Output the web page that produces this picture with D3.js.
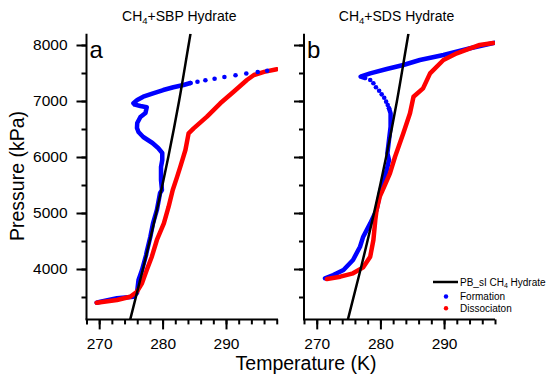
<!DOCTYPE html>
<html>
<head>
<meta charset="utf-8">
<script src="https://cdn.jsdelivr.net/npm/d3@7"></script>
<style>
  body { margin: 0; background: #fff; }
  text { font-family: "Liberation Sans", Arial, sans-serif; fill: #000; }
</style>
</head>
<body>
<svg id="chart" width="550" height="379"></svg>
<script>
// tick values
const tempTicks = [270, 280, 290];
const tempMinor = d3.range(268, 299, 2);
const presTicks = [4000, 5000, 6000, 7000, 8000];
const presMinor = d3.range(3500, 8001, 500);

// PB sI CH4 hydrate equilibrium (same in both panels)
const equilibrium = [[274.9, 3100], [276.9, 4000], [279.0, 5000], [280.9, 6000], [282.6, 7000], [284.1, 8000], [284.4, 8200]];

// panel a : CH4 + SBP
const sbpFormationDots = [[296.5, 7541], [295.0, 7518], [293.2, 7491], [291.5, 7459], [289.75, 7429], [288.2, 7398], [286.75, 7370], [285.5, 7345], [284.4, 7321]];
const sbpFormation = [[284.4, 7321], [283.3, 7286], [281.7, 7245], [280.1, 7196], [278.5, 7138], [276.95, 7077], [276.0, 7018], [275.4, 6959], [275.6, 6935], [276.5, 6911], [277.5, 6888],
  [277.3, 6786], [276.5, 6714], [276.0, 6607], [275.96, 6518], [276.2, 6446], [276.95, 6357], [278.4, 6250], [279.3, 6161], [279.95, 6071], [279.95, 5946], [279.75, 5821],
  [279.75, 5589], [279.9, 5411], [279.6, 5357], [279.1, 5054], [278.5, 4821], [278.06, 4571], [277.5, 4309], [277.4, 4250], [276.75, 3982], [276.2, 3804], [275.96, 3571],
  [275.4, 3505], [272.8, 3477], [270.2, 3416], [269.6, 3398]];
const sbpDissociation = [[269.6, 3398], [272.8, 3446], [274.9, 3505], [275.96, 3595], [276.75, 3744], [277.5, 3982], [278.3, 4220], [279.1, 4518], [280.2, 4815], [280.95, 5113],
  [281.6, 5411], [282.3, 5650], [282.8, 5827], [283.6, 6125], [284.1, 6423], [284.9, 6512], [287.0, 6720], [289.1, 6959], [291.2, 7166], [293.3, 7375], [294.4, 7464], [296.0, 7520], [298.0, 7568]];

// panel b : CH4 + SDS
const sdsFormation = [[298.0, 8041], [294.1, 7941], [289.9, 7821], [286.2, 7732], [283.6, 7643], [281.0, 7571], [278.4, 7494], [277.1, 7446], [276.9, 7434], [277.6, 7410]];
const sdsFormationDots = [[278.4, 7375], [278.9, 7316], [279.3, 7245], [279.8, 7184], [280.2, 7119], [280.6, 7059], [280.9, 6988], [281.15, 6929], [281.35, 6870]];
const sdsFormation2 = [[281.35, 6870], [281.6, 6780], [281.6, 6541], [281.35, 6304], [281.1, 6066], [281.35, 5946], [281.0, 5768], [280.5, 5589], [280.0, 5400],
  [279.4, 5054], [278.4, 4815], [277.3, 4577], [276.8, 4398], [275.7, 4161], [274.2, 3982], [272.6, 3893], [271.3, 3834]];
const sdsDissociation = [[271.6, 3821], [273.7, 3863], [275.7, 3923], [277.3, 4030], [278.4, 4220], [278.9, 4518], [279.2, 4875], [279.4, 5054], [279.9, 5291], [280.6, 5470],
  [281.5, 5709], [282.3, 6005], [283.6, 6423], [284.65, 6780], [285.2, 7077], [286.7, 7226], [287.8, 7494], [289.9, 7732], [292.0, 7851], [294.1, 7941], [295.6, 8000], [297.7, 8036]];

const blue = "#0000ff", red = "#ff0000";
const svg = d3.select("#chart");

const y = d3.scaleLinear().domain([3100, 8200]).range([319.4, 33.8]);

const panels = [
  { x: d3.scaleLinear().domain([268, 298.2]).range([86.5, 278]), letter: "a", title: "SBP", labels: true,
    lines: [[sbpFormation, blue], [sbpDissociation, red]], dots: [[sbpFormationDots, blue]] },
  { x: d3.scaleLinear().domain([268, 298]).range([304, 495]), letter: "b", title: "SDS", labels: false,
    lines: [[sdsFormation, blue], [sdsFormation2, blue], [sdsDissociation, red]], dots: [[sdsFormationDots, blue]] }
];

panels.forEach(p => {
  const x = p.x;
  const g = svg.append("g");
  const [x0, x1] = x.range();

  // clip so the equilibrium line stops at the frame
  const clipId = "clip" + p.letter;
  svg.append("clipPath").attr("id", clipId).append("rect")
    .attr("x", x0).attr("y", y.range()[1]).attr("width", x1 - x0).attr("height", y.range()[0] - y.range()[1]);

  const line = d3.line().x(d => x(d[0])).y(d => y(d[1]));
  const plot = g.append("g").attr("clip-path", `url(#${clipId})`);

  // formation first, dissociation on top
  p.lines.forEach(([data, color]) => {
    plot.append("path").datum(data)
      .attr("d", line)
      .attr("fill", "none")
      .attr("stroke", color)
      .attr("stroke-width", 4.5)
      .attr("stroke-linejoin", "round")
      .attr("stroke-linecap", "round");
  });
  p.dots.forEach(([data, color]) => {
    plot.selectAll(null).data(data).enter().append("circle")
      .attr("cx", d => x(d[0])).attr("cy", d => y(d[1]))
      .attr("r", 2.3).attr("fill", color);
  });

  plot.append("path").datum(equilibrium)
    .attr("d", d3.line().x(d => x(d[0])).y(d => y(d[1])).curve(d3.curveMonotoneY))
    .attr("fill", "none")
    .attr("stroke", "#000")
    .attr("stroke-width", 2.5);

  // axes
  const xAxis = g.append("g").attr("transform", `translate(0,${y.range()[0]})`)
    .call(d3.axisBottom(x).tickValues(tempTicks).tickSize(10).tickFormat(d3.format("d")));
  g.append("g").attr("transform", `translate(0,${y.range()[0]})`)
    .call(d3.axisBottom(x).tickValues(tempMinor).tickSize(5).tickFormat(""));
  const yAxis = g.append("g").attr("transform", `translate(${x0},0)`)
    .call(d3.axisLeft(y).tickValues(presTicks).tickSize(10).tickFormat(p.labels ? d3.format("d") : ""));
  g.append("g").attr("transform", `translate(${x0},0)`)
    .call(d3.axisLeft(y).tickValues(presMinor).tickSize(5).tickFormat(""));

  g.selectAll(".domain").attr("stroke", "#000").attr("stroke-width", 2);
  g.selectAll(".tick line").attr("stroke", "#000").attr("stroke-width", 2);
  g.selectAll(".domain").attr("d", function() {
    return this.parentNode === xAxis.node() || this.parentNode === yAxis.node() ? d3.select(this).attr("d") : null;
  });
  // plain straight domain lines
  g.selectAll(".domain").remove();
  g.append("line").attr("x1", x0 - 1).attr("x2", x1).attr("y1", y.range()[0]).attr("y2", y.range()[0]).attr("stroke", "#000").attr("stroke-width", 2);
  g.append("line").attr("x1", x0).attr("x2", x0).attr("y1", y.range()[1]).attr("y2", y.range()[0]).attr("stroke", "#000").attr("stroke-width", 2);

  xAxis.selectAll("text").attr("font-size", "15.5px").attr("dy", "1.05em");
  yAxis.selectAll("text").attr("font-size", "15.5px").attr("x", -19);

  // panel letter
  g.append("text").attr("x", x0 + 3).attr("y", 58).attr("font-size", "24px").text(p.letter);

  // title with subscript
  const t = g.append("text").attr("x", (x0 + x1) / 2 - 3).attr("y", 21).attr("text-anchor", "middle").attr("font-size", "14px");
  t.append("tspan").text("CH");
  t.append("tspan").attr("font-size", "9.5px").attr("dy", 3).text("4");
  t.append("tspan").attr("dy", -3).text("+" + p.title + " Hydrate");
});

// axis titles
svg.append("text").attr("x", 306).attr("y", 370).attr("text-anchor", "middle").attr("font-size", "19.5px").text("Temperature (K)");
svg.append("text").attr("transform", "translate(24,176) rotate(-90)").attr("text-anchor", "middle").attr("font-size", "19.5px").text("Pressure (kPa)");

// legend
const leg = svg.append("g");
leg.append("line").attr("x1", 433).attr("x2", 458).attr("y1", 282).attr("y2", 282).attr("stroke", "#000").attr("stroke-width", 2.5);
const lt = leg.append("text").attr("x", 460).attr("y", 285.5).attr("font-size", "10px");
lt.append("tspan").text("PB_sI CH");
lt.append("tspan").attr("font-size", "7px").attr("dy", 2).text("4");
lt.append("tspan").attr("dy", -2).text(" Hydrate");
leg.append("circle").attr("cx", 446).attr("cy", 296.5).attr("r", 2.2).attr("fill", blue);
leg.append("text").attr("x", 460).attr("y", 300).attr("font-size", "10px").text("Formation");
leg.append("circle").attr("cx", 446).attr("cy", 308.3).attr("r", 2.2).attr("fill", red);
leg.append("text").attr("x", 460).attr("y", 312).attr("font-size", "10px").text("Dissociaton");
</script>
</body>
</html>
